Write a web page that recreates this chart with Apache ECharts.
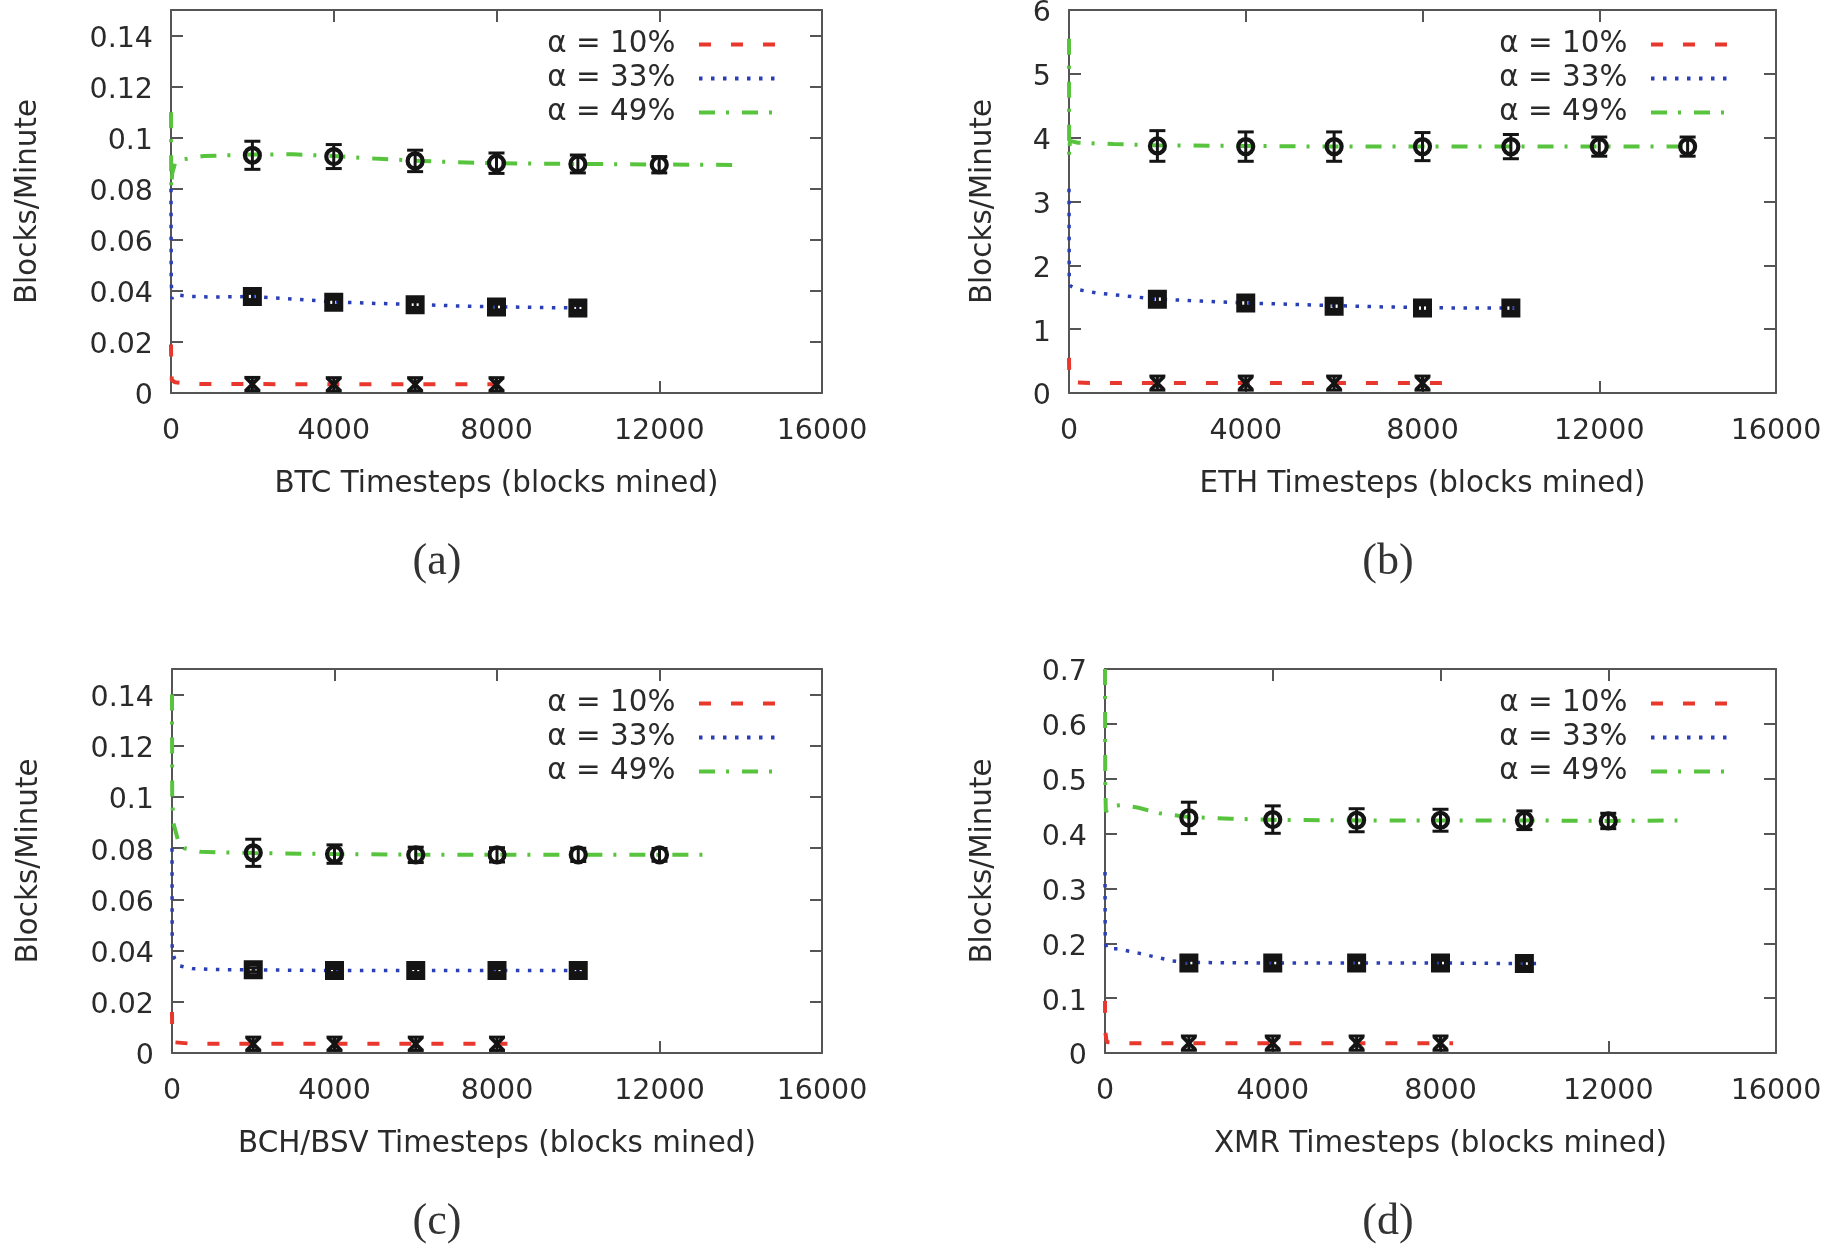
<!DOCTYPE html>
<html><head><meta charset="utf-8">
<script src="https://cdn.jsdelivr.net/npm/echarts/dist/echarts.min.js"></script>
<style>html,body{margin:0;padding:0;background:#fff}#c{width:1842px;height:1251px}</style>
</head><body><div id="c"></div>
<script>
// ---------------- data ----------------
const seriesNames = ['α = 10%', 'α = 33%', 'α = 49%'];
const xTitles = ['BTC Timesteps (blocks mined)', 'ETH Timesteps (blocks mined)', 'BCH/BSV Timesteps (blocks mined)', 'XMR Timesteps (blocks mined)'];
const yTitle = 'Blocks/Minute';
const captions = ['(a)', '(b)', '(c)', '(d)'];
const xTicks = [0, 4000, 8000, 12000, 16000];
const yTicksBTC = [0, 0.02, 0.04, 0.06, 0.08, 0.1, 0.12, 0.14];
const yTicksETH = [0, 1, 2, 3, 4, 5, 6];
const yTicksBCH = [0, 0.02, 0.04, 0.06, 0.08, 0.1, 0.12, 0.14];
const yTicksXMR = [0, 0.1, 0.2, 0.3, 0.4, 0.5, 0.6, 0.7];

// BTC
const btcLine10 = [[0,0.019],[5,0.012],[20,0.005],[100,0.0042],[500,0.0036],[1000,0.0035],[2000,0.0035],[4000,0.0034],[6000,0.0034],[8000,0.0034],[8400,0.0034]];
const btcLine33 = [[0,0.080],[5,0.045],[20,0.037],[100,0.0385],[500,0.0378],[1000,0.0376],[2000,0.0378],[3000,0.0368],[4000,0.0357],[5000,0.0351],[6000,0.0347],[7000,0.0341],[8000,0.0338],[9000,0.0335],[10100,0.0333]];
const btcLine49 = [[0,0.110],[5,0.080],[30,0.086],[100,0.090],[300,0.0915],[800,0.0928],[2000,0.0934],[3000,0.0935],[4000,0.0928],[5000,0.0918],[6000,0.0910],[7000,0.0904],[8000,0.0900],[10000,0.0897],[12000,0.0895],[13900,0.0893]];
const btcPts10 = [[2000,0.0035,0.0026],[4000,0.0034,0.0026],[6000,0.0034,0.0026],[8000,0.0034,0.0026]];
const btcPts33 = [[2000,0.0378,0.0012],[4000,0.0355,0.0012],[6000,0.0346,0.0011],[8000,0.0337,0.0011],[10000,0.0333,0.0010]];
const btcPts49 = [[2000,0.0931,0.0055],[4000,0.0926,0.0047],[6000,0.0909,0.0042],[8000,0.0900,0.0040],[10000,0.0897,0.0035],[12000,0.0894,0.0032]];

// ETH
const ethLine10 = [[0,0.55],[5,0.25],[30,0.17],[500,0.155],[2000,0.155],[4000,0.155],[6000,0.155],[8000,0.155],[8650,0.155]];
const ethLine33 = [[0,3.2],[5,1.75],[30,1.68],[200,1.62],[600,1.57],[1000,1.54],[2000,1.47],[3000,1.44],[4000,1.41],[5000,1.39],[6000,1.37],[7000,1.35],[8000,1.34],[9000,1.33],[10250,1.33]];
const ethLine49 = [[0,5.55],[3,3.7],[20,3.95],[200,3.92],[1000,3.9],[2000,3.88],[4000,3.87],[6000,3.86],[8000,3.86],[10000,3.86],[12000,3.86],[14100,3.86]];
const ethPts10 = [[2000,0.155,0.11],[4000,0.155,0.11],[6000,0.155,0.11],[8000,0.155,0.11]];
const ethPts33 = [[2000,1.47,0.05],[4000,1.41,0.05],[6000,1.36,0.05],[8000,1.33,0.05],[10000,1.33,0.05]];
const ethPts49 = [[2000,3.87,0.24],[4000,3.86,0.23],[6000,3.86,0.23],[8000,3.86,0.22],[10000,3.86,0.19],[12000,3.86,0.15],[14000,3.86,0.15]];

// BCH/BSV
const bchLine10 = [[0,0.016],[5,0.006],[50,0.0042],[500,0.0036],[2000,0.0036],[4000,0.0036],[6000,0.0036],[8000,0.0036],[8400,0.0036]];
const bchLine33 = [[0,0.080],[5,0.040],[60,0.037],[200,0.034],[500,0.033],[1000,0.0326],[2000,0.0325],[4000,0.0322],[6000,0.0322],[8000,0.0322],[10000,0.0322]];
const bchLine49 = [[0,0.140],[5,0.100],[30,0.090],[150,0.083],[300,0.080],[700,0.0786],[2000,0.0781],[4000,0.0777],[6000,0.0775],[8000,0.0774],[10000,0.0774],[12000,0.0774],[13300,0.0774]];
const bchPts10 = [[2000,0.0036,0.0026],[4000,0.0036,0.0026],[6000,0.0036,0.0026],[8000,0.0036,0.0026]];
const bchPts33 = [[2000,0.0325,0.0008],[4000,0.0322,0.0008],[6000,0.0322,0.0008],[8000,0.0322,0.0008],[10000,0.0322,0.0008]];
const bchPts49 = [[2000,0.0782,0.0053],[4000,0.0777,0.0036],[6000,0.0774,0.0030],[8000,0.0774,0.0028],[10000,0.0774,0.0026],[12000,0.0774,0.0025]];

// XMR
const xmrLine10 = [[0,0.095],[5,0.04],[40,0.02],[500,0.018],[2000,0.018],[4000,0.018],[6000,0.018],[8000,0.018],[8300,0.018]];
const xmrLine33 = [[0,0.33],[5,0.20],[50,0.19],[300,0.19],[800,0.182],[1600,0.168],[2000,0.165],[4000,0.164],[6000,0.164],[8000,0.164],[10000,0.163],[10350,0.163]];
const xmrLine49 = [[0,0.70],[5,0.50],[20,0.44],[150,0.45],[400,0.452],[800,0.447],[1300,0.437],[2000,0.43],[3000,0.427],[4000,0.425],[6000,0.424],[8000,0.424],[10000,0.424],[12000,0.423],[13650,0.424]];
const xmrPts10 = [[2000,0.018,0.013],[4000,0.018,0.013],[6000,0.018,0.013],[8000,0.018,0.013]];
const xmrPts33 = [[2000,0.164,0.005],[4000,0.164,0.005],[6000,0.164,0.005],[8000,0.164,0.005],[10000,0.163,0.005]];
const xmrPts49 = [[2000,0.4286,0.0286],[4000,0.4255,0.025],[6000,0.4243,0.021],[8000,0.4243,0.020],[10000,0.4243,0.017],[12000,0.423,0.014]];

// ---------------- layout / styles ----------------
const FONT = 'DejaVu Sans';
const TXT = '#2a2a2a';
const FRAME = '#555';
const lineStyles = [
  {color: '#e8372c', width: 4, type: [12, 20]},
  {color: '#2b3fb5', width: 3.5, type: [3.5, 8.5]},
  {color: '#58c43e', width: 4, type: [16, 11, 3, 13]}
];
const markerKinds = ['cross', 'square', 'circle'];

const panels = [
  {lines: [btcLine10, btcLine33, btcLine49], pts: [btcPts10, btcPts33, btcPts49], yTicks: yTicksBTC, yMax: 0.15,
   grid: {left: 171, top: 10, width: 651, height: 383}, yNameGap: 128, legendRight: 1061, legendTop: 30, cap: [437, 562]},
  {lines: [ethLine10, ethLine33, ethLine49], pts: [ethPts10, ethPts33, ethPts49], yTicks: yTicksETH, yMax: 6,
   grid: {left: 1069, top: 10, width: 707, height: 383}, yNameGap: 71, legendRight: 109, legendTop: 30, cap: [1388, 562]},
  {lines: [bchLine10, bchLine33, bchLine49], pts: [bchPts10, bchPts33, bchPts49], yTicks: yTicksBCH, yMax: 0.15,
   grid: {left: 172, top: 669, width: 650, height: 384}, yNameGap: 128, legendRight: 1061, legendTop: 689, cap: [437, 1222]},
  {lines: [xmrLine10, xmrLine33, xmrLine49], pts: [xmrPts10, xmrPts33, xmrPts49], yTicks: yTicksXMR, yMax: 0.7,
   grid: {left: 1105, top: 669, width: 671, height: 384}, yNameGap: 107, legendRight: 109, legendTop: 689, cap: [1388, 1222]}
];

function markerRender(kind) {
  return function (params, api) {
    const x = api.value(0), y = api.value(1), e = api.value(2);
    const c = api.coord([x, y]);
    const t = api.coord([x, y + e]);
    const b = api.coord([x, y - e]);
    const cap = 8;
    const K = '#141414';
    const st = {stroke: K, lineWidth: 3, fill: null};
    const ch = [
      {type: 'line', shape: {x1: c[0], y1: t[1], x2: c[0], y2: b[1]}, style: st},
      {type: 'line', shape: {x1: c[0] - cap, y1: t[1], x2: c[0] + cap, y2: t[1]}, style: st},
      {type: 'line', shape: {x1: c[0] - cap, y1: b[1], x2: c[0] + cap, y2: b[1]}, style: st}
    ];
    if (kind === 'circle') {
      ch.push({type: 'circle', shape: {cx: c[0], cy: c[1], r: 7.5}, style: {stroke: K, lineWidth: 4.2, fill: null}});
    } else if (kind === 'square') {
      ch.push({type: 'rect', shape: {x: c[0] - 6.5, y: c[1] - 6.5, width: 13, height: 13}, style: {stroke: K, lineWidth: 6, fill: null}});
    } else {
      const s = 6.5;
      ch.push({type: 'line', shape: {x1: c[0] - s, y1: c[1] - s, x2: c[0] + s, y2: c[1] + s}, style: {stroke: K, lineWidth: 3.8}});
      ch.push({type: 'line', shape: {x1: c[0] - s, y1: c[1] + s, x2: c[0] + s, y2: c[1] - s}, style: {stroke: K, lineWidth: 3.8}});
    }
    return {type: 'group', children: ch};
  };
}

const grids = [], xAxes = [], yAxes = [], series = [], legends = [], graphics = [];
const n = panels.length;
panels.forEach((p, i) => {
  grids.push(Object.assign({show: false, outerBoundsMode: 'none', containLabel: false}, p.grid));
  const yInt = p.yTicks[1] - p.yTicks[0];
  const baseX = {
    type: 'value', gridIndex: i, min: xTicks[0], max: xTicks[xTicks.length - 1], interval: xTicks[1] - xTicks[0],
    splitLine: {show: false},
    axisLine: {show: true, onZero: false, lineStyle: {color: FRAME, width: 2}},
    axisTick: {show: true, inside: true, length: 12, lineStyle: {color: FRAME, width: 2}}
  };
  xAxes[i] = Object.assign({}, baseX, {
    position: 'bottom', name: xTitles[i], nameLocation: 'middle', nameGap: 77,
    nameTextStyle: {fontFamily: FONT, fontSize: 29.4, color: TXT},
    axisLabel: {show: true, margin: 24, fontFamily: FONT, fontSize: 28.5, color: TXT,
      formatter: v => String(v), showMinLabel: true, showMaxLabel: true}
  });
  xAxes[i + n] = Object.assign({}, baseX, {position: 'top', axisLabel: {show: false}});
  const baseY = {
    type: 'value', gridIndex: i, min: p.yTicks[0], max: p.yMax, interval: yInt,
    splitLine: {show: false},
    axisLine: {show: true, onZero: false, lineStyle: {color: FRAME, width: 2}},
    axisTick: {show: true, inside: true, length: 12, lineStyle: {color: FRAME, width: 2}}
  };
  const lastTick = p.yTicks[p.yTicks.length - 1];
  yAxes[i] = Object.assign({}, baseY, {
    position: 'left', name: yTitle, nameLocation: 'middle', nameRotate: 90, nameGap: p.yNameGap,
    nameTextStyle: {fontFamily: FONT, fontSize: 29.4, color: TXT},
    axisLabel: {show: true, margin: 18, color: TXT,
      formatter: v => '{t|' + v + '}',
      rich: {t: {fontFamily: FONT, fontSize: 28.5, color: TXT, padding: [8, 0, 0, 0]}},
      showMaxLabel: Math.abs(lastTick - p.yMax) < 1e-9}
  });
  yAxes[i + n] = Object.assign({}, baseY, {position: 'right', axisLabel: {show: false}});

  p.lines.forEach((d, k) => {
    series.push({
      type: 'line', name: seriesNames[k], xAxisIndex: i, yAxisIndex: i, data: d,
      showSymbol: false, symbol: 'none', smooth: false, animation: false, z: 2,
      lineStyle: lineStyles[k], itemStyle: {color: lineStyles[k].color}
    });
  });
  p.pts.forEach((d, k) => {
    series.push({
      type: 'custom', name: 'pts' + i + k, xAxisIndex: i, yAxisIndex: i, data: d,
      encode: {x: 0, y: 1}, renderItem: markerRender(markerKinds[k]), z: 5, silent: true, animation: false
    });
  });
  legends.push({
    data: seriesNames, orient: 'vertical', align: 'right', right: p.legendRight, top: p.legendTop,
    padding: 0, itemWidth: 80, itemHeight: 20, itemGap: 5, selectedMode: false,
    itemStyle: {opacity: 0, color: 'rgba(0,0,0,0)', borderWidth: 0},
    lineStyle: {width: 4},
    formatter: nm => nm + '  ',
    textStyle: {fontFamily: FONT, fontSize: 29.4, color: TXT, lineHeight: 29}
  });
  graphics.push({
    type: 'text', x: p.cap[0], y: p.cap[1], silent: true,
    style: {text: captions[i], font: '44px "Liberation Serif"', fill: '#333',
      align: 'center', verticalAlign: 'middle', textAlign: 'center', textVerticalAlign: 'middle'}
  });
});

const chart = echarts.init(document.getElementById('c'), null, {renderer: 'canvas'});
chart.setOption({
  backgroundColor: '#fff',
  animation: false,
  textStyle: {fontFamily: FONT},
  grid: grids, xAxis: xAxes, yAxis: yAxes, series: series, legend: legends, graphic: graphics
});
</script></body></html>
